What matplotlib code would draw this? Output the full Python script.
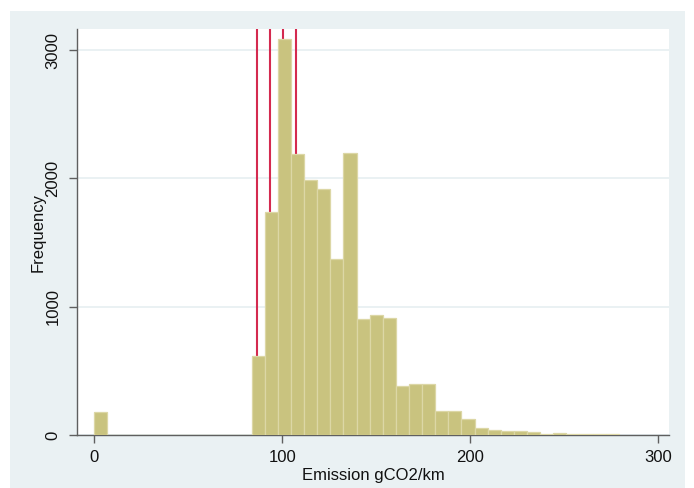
import numpy as np
import matplotlib
matplotlib.use("Agg")
from matplotlib import pyplot as plt
from matplotlib.patches import Rectangle

plt.rcParams['font.family'] = ['Liberation Sans', 'DejaVu Sans']

# histogram bins: 40 bins of equal width starting at 0
bin_start = 0.0
bin_width = 6.975
counts = [182, 0, 0, 0, 0, 0, 0, 0, 0, 0, 0, 0,
          616, 1738, 3087, 2190, 1985, 1915, 1374, 2196,
          904, 933, 912, 384, 397, 397, 187, 187, 122, 57,
          36, 30, 28, 23, 11, 16, 11, 8, 8, 8]

# reference lines (gCO2/km)
cutoffs = [86.7, 93.6, 100.6, 107.4]

x_ticks = [0, 100, 200, 300]
y_ticks = [0, 1000, 2000, 3000]

bg = '#eaf1f3'
bar_face = '#c9c37f'
bar_edge = '#dcd7a6'
line_red = '#d42a4f'
axis_gray = '#5f5f5f'

fig = plt.figure(figsize=(6.94, 4.88), dpi=100)
W, H = 694, 488
# light panel behind the plot region
fig.patches.append(Rectangle((10 / W, 0), 675 / W, 1 - 11 / H,
                             transform=fig.transFigure, facecolor=bg,
                             edgecolor='none', zorder=-10))

ax = fig.add_axes([77 / W, 1 - 435 / H, 592 / W, 406 / H])
ax.set_facecolor('white')

edges = bin_start + bin_width * np.arange(len(counts))
ax.bar(edges, counts, width=bin_width, align='edge', color=bar_face,
       edgecolor=bar_edge, linewidth=0.9, zorder=3)

for c in cutoffs:
    ax.axvline(c, color=line_red, linewidth=1.5, zorder=2)

ax.set_xlim(-9.2, 305.7)
ax.set_ylim(0, 3164)
ax.set_xticks(x_ticks)
ax.set_yticks(y_ticks)
ax.yaxis.grid(True, color='#e6eff1', linewidth=1.2, zorder=1)
ax.set_axisbelow(True)

for side in ['top', 'right']:
    ax.spines[side].set_visible(False)
for side in ['left', 'bottom']:
    ax.spines[side].set_color(axis_gray)
    ax.spines[side].set_linewidth(1.0)

ax.tick_params(axis='both', direction='out', length=6, width=1.0,
               color=axis_gray, labelsize=12, labelcolor='#111111')
ax.tick_params(axis='x', pad=5)
ax.tick_params(axis='y', pad=6)
for lab in ax.get_yticklabels():
    lab.set_rotation(90)
    lab.set_va('center')

ax.set_xlabel('Emission gCO2/km', fontsize=12, color='#111111', labelpad=2)
ax.set_ylabel('Frequency', fontsize=12, color='#111111', labelpad=0)

fig.savefig('out.png', dpi=100, facecolor='white')
